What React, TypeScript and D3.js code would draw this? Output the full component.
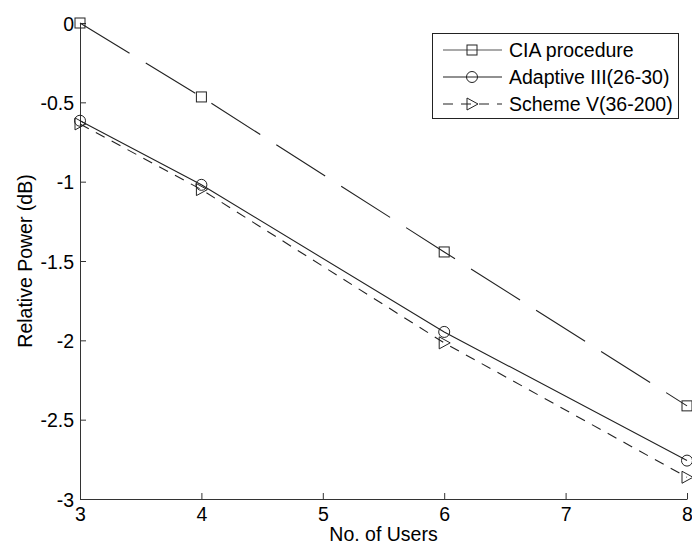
import React, { useEffect, useRef } from "react";
import * as d3 from "d3";

const users = [3, 4, 6, 8];
const ciaValues = [0, -0.466, -1.443, -2.413];
const adaptiveValues = [-0.616, -1.02, -1.947, -2.758];
const schemeValues = [-0.636, -1.05, -2.016, -2.863];

const xTicks = [3, 4, 5, 6, 7, 8];
const yTicks = [0, -0.5, -1, -1.5, -2, -2.5, -3];

const seriesNames = ["CIA procedure", "Adaptive III(26-30)", "Scheme V(36-200)"];

const App: React.FC = () => {
  const svgRef = useRef<SVGSVGElement | null>(null);

  useEffect(() => {
    document.body.style.margin = "0";

    const width = 692;
    const height = 546;
    const font = "'Liberation Sans', Arial, sans-serif";
    const fontSize = 19.5;

    const x = d3.scaleLinear().domain([3, 8]).range([80, 687]);
    const y = d3.scaleLinear().domain([-3, 0]).range([499, 23]);

    const svg = d3
      .select(svgRef.current)
      .attr("width", width)
      .attr("height", height)
      .style("display", "block")
      .style("background", "#fff");

    svg.selectAll("*").remove();

    // bottom axis, ticks pointing inward
    const xAxis = svg
      .append("g")
      .attr("transform", `translate(0,${y(-3)})`)
      .call(d3.axisBottom(x).tickValues(xTicks).tickSizeInner(-6).tickSizeOuter(0).tickPadding(8).tickFormat(d3.format("d")));
    xAxis.select(".domain").attr("stroke", "#333");
    xAxis.selectAll(".tick line").attr("stroke", "#333");
    xAxis
      .selectAll(".tick text")
      .attr("font-family", font)
      .attr("font-size", fontSize)
      .attr("fill", "#000")
      .attr("y", 22)
      .attr("dy", 0);

    // left axis
    const yAxis = svg
      .append("g")
      .attr("transform", `translate(${x(3)},0)`)
      .call(d3.axisLeft(y).tickValues(yTicks).tickSizeInner(-6).tickSizeOuter(0).tickPadding(6).tickFormat((d) => String(d)));
    yAxis.select(".domain").attr("stroke", "#333");
    yAxis.selectAll(".tick line").attr("stroke", "#333");
    yAxis
      .selectAll(".tick text")
      .attr("font-family", font)
      .attr("font-size", fontSize)
      .attr("fill", "#000")
      .attr("x", -6)
      .attr("dy", "0.36em");

    svg
      .append("text")
      .attr("x", (x(3) + x(8)) / 2)
      .attr("y", 541)
      .attr("text-anchor", "middle")
      .attr("font-family", font)
      .attr("font-size", fontSize)
      .text("No. of Users");

    svg
      .append("text")
      .attr("transform", `translate(32,${(y(0) + y(-3)) / 2}) rotate(-90)`)
      .attr("text-anchor", "middle")
      .attr("font-family", font)
      .attr("font-size", fontSize)
      .text("Relative Power (dB)");

    const line = d3
      .line<number>()
      .x((_, i) => x(users[i]))
      .y((d) => y(d));

    const series = [
      { values: ciaValues, dash: "58,19", marker: "square" },
      { values: adaptiveValues, dash: null, marker: "circle" },
      { values: schemeValues, dash: "10,8", marker: "triangle" },
    ];

    const drawMarker = (g: d3.Selection<SVGGElement, unknown, null, undefined>, kind: string, cx: number, cy: number) => {
      if (kind === "square") {
        g.append("rect")
          .attr("x", cx - 5)
          .attr("y", cy - 5)
          .attr("width", 10)
          .attr("height", 10)
          .attr("fill", "none")
          .attr("stroke", "#222")
          .attr("stroke-width", 1);
      } else if (kind === "circle") {
        g.append("circle")
          .attr("cx", cx)
          .attr("cy", cy)
          .attr("r", 5.5)
          .attr("fill", "none")
          .attr("stroke", "#222")
          .attr("stroke-width", 1);
      } else {
        g.append("path")
          .attr("d", `M${cx - 5},${cy - 6}L${cx + 6},${cy}L${cx - 5},${cy + 6}Z`)
          .attr("fill", "none")
          .attr("stroke", "#222")
          .attr("stroke-width", 1);
      }
    };

    series.forEach((s) => {
      svg
        .append("path")
        .datum(s.values)
        .attr("fill", "none")
        .attr("stroke", "#222")
        .attr("stroke-width", 1.1)
        .attr("stroke-dasharray", s.dash)
        .attr("d", line);

      const mg = svg.append("g");
      s.values.forEach((v, i) => drawMarker(mg, s.marker, x(users[i]), y(v)));
    });

    // legend
    const legend = svg.append("g");
    legend
      .append("rect")
      .attr("x", 432.5)
      .attr("y", 33.5)
      .attr("width", 246)
      .attr("height", 85)
      .attr("fill", "#fff")
      .attr("stroke", "#222")
      .attr("stroke-width", 1);

    const rowY = [50, 77, 104];
    seriesNames.forEach((name, i) => {
      const yy = rowY[i];
      legend
        .append("line")
        .attr("x1", 443)
        .attr("x2", 502)
        .attr("y1", yy)
        .attr("y2", yy)
        .attr("stroke", i === 0 ? "#555" : "#222")
        .attr("stroke-width", 1.1)
        .attr("stroke-dasharray", i === 2 ? "10,8" : null);
      drawMarker(legend, series[i].marker, 472, yy);
      legend
        .append("text")
        .attr("x", 509)
        .attr("y", yy)
        .attr("dy", "0.36em")
        .attr("font-family", font)
        .attr("font-size", fontSize)
        .text(name);
    });
  }, []);

  return <svg ref={svgRef} />;
};

export default App;
